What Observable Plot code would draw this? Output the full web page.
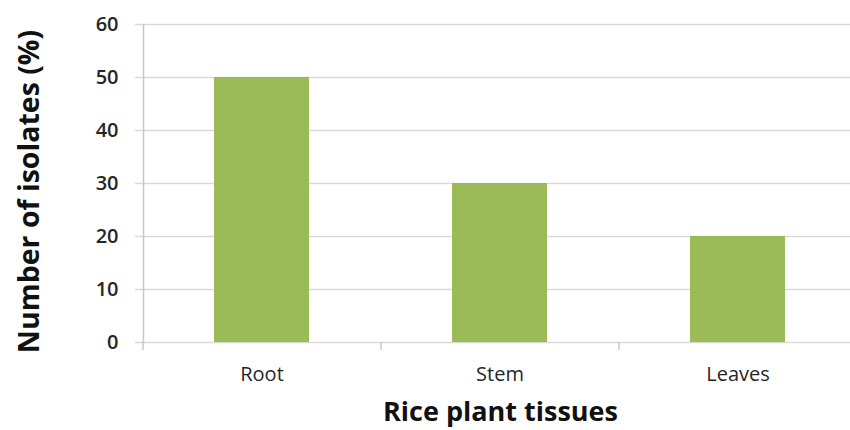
<!DOCTYPE html>
<html>
<head>
<meta charset="utf-8">
<script src="https://cdn.jsdelivr.net/npm/d3@7"></script>
<script src="https://cdn.jsdelivr.net/npm/@observablehq/plot@0.6"></script>
<style>
  html, body { margin: 0; padding: 0; background: #fff; }
  #chart svg { display: block; }
</style>
</head>
<body>
<div id="chart"></div>
<script>
const categories = ["Root", "Stem", "Leaves"];
const values = [50, 30, 20];
const yTicks = [0, 10, 20, 30, 40, 50, 60];
const xTitle = "Rice plant tissues";
const yTitle = "Number of isolates (%)";

const data = categories.map((c, i) => ({ tissue: c, value: values[i] }));

const chart = Plot.plot({
  width: 850,
  height: 430,
  marginLeft: 143,
  marginRight: -7,
  marginTop: 24,
  marginBottom: 88,
  style: { fontFamily: "'Open Sans', sans-serif", background: "#fff", color: "#262626" },
  x: { domain: categories, paddingInner: 0.6, paddingOuter: 0.3, align: 0.5 },
  y: { domain: [0, 60] },
  marks: [
    Plot.ruleY(yTicks, { stroke: "#d9d9d9", strokeWidth: 1.5, insetLeft: -8 }),
    Plot.frame({ anchor: "left", stroke: "#c8c8c8", strokeWidth: 1.5 }),
    Plot.ruleX(categories, { x: d => d, y1: 0, y2: 0, dx: -119, insetBottom: -8, stroke: "#c8c8c8", strokeWidth: 1.5 }),
    Plot.barY(data, { x: "tissue", y: "value", fill: "#9bbb59" }),
    Plot.axisY(yTicks, { tickSize: 0, tickPadding: 25, label: null, fontSize: 20, fontWeight: 600 }),
    Plot.axisX({ tickSize: 0, tickPadding: 24, label: null, fontSize: 20 }),
    Plot.text([xTitle], { frameAnchor: "bottom", dy: 78, fontSize: 27, fontWeight: "bold", fill: "#111" }),
    Plot.text([yTitle], { frameAnchor: "left", textAnchor: "middle", rotate: -90, dx: -114, dy: 8, fontSize: 28.5, fontWeight: "bold", fill: "#111" })
  ]
});
document.getElementById("chart").appendChild(chart);
</script>
</body>
</html>
